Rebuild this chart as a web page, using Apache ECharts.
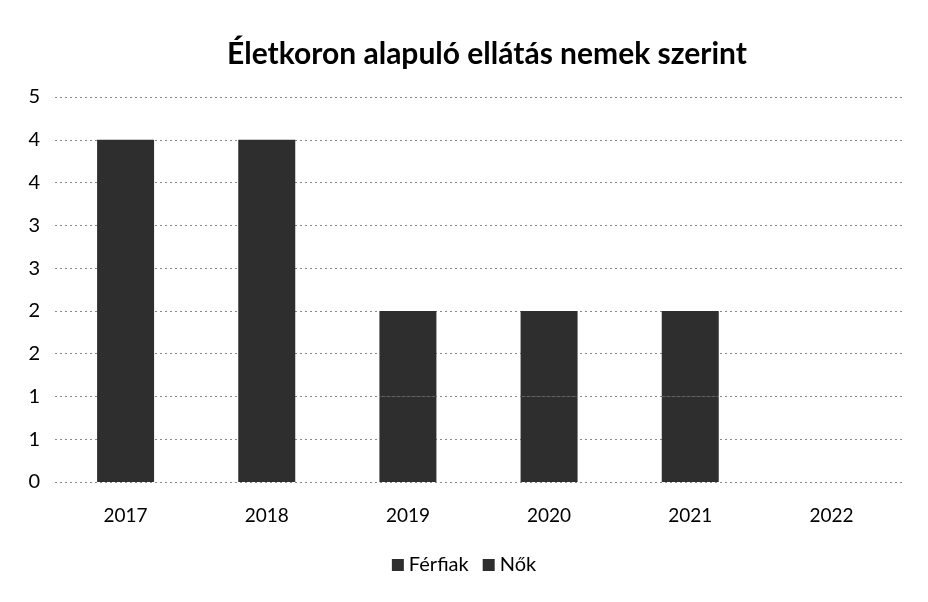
<!DOCTYPE html>
<html>
<head>
<meta charset="utf-8">
<script src="https://cdn.jsdelivr.net/npm/echarts@6/dist/echarts.min.js"></script>
<style>
html, body { margin: 0; padding: 0; background: #fff; }
#chart { width: 928px; height: 602px; }
</style>
</head>
<body>
<div id="chart"></div>
<script>
/*
 * adatok
 */
var years = ['2017', '2018', '2019', '2020', '2021', '2022'];
var ferfiak = [2, 2, 1, 1, 1, 0];
var nok = [2, 2, 1, 1, 1, 0];

var chart = echarts.init(document.getElementById('chart'));
var option = {
	animation: false,
	title: {
		text: 'Életkoron alapuló ellátás nemek szerint',
		top: 34,
		left: 482,
		textAlign: 'center',
		textStyle: {
			fontFamily: 'Lato',
			fontSize: 30,
			fontWeight: 'bold',
			color: '#000'
		}
	},
	legend: {
		data: ['Férfiak', 'Nők'],
		bottom: 22,
		left: 'center',
		itemWidth: 12,
		itemHeight: 12,
		itemGap: 14,
		icon: 'rect',
		textStyle: { fontFamily: 'Lato', fontSize: 20, color: '#000' }
	},
	grid: {
		left: 55,
		right: 26,
		top: 97,
		bottom: 120,
		containLabel: false
	},
	xAxis: {
		type: 'category',
		data: years,
		axisLine: { show: false },
		axisTick: { show: false },
		axisLabel: {
			margin: 24,
			fontFamily: 'Lato',
			fontSize: 19,
			color: '#000'
		}
	},
	yAxis: {
		type: 'value',
		min: 0,
		max: 4.5,
		interval: 0.5,
		axisLine: { show: false },
		axisTick: { show: false },
		axisLabel: {
			margin: 15,
			fontFamily: 'Lato',
			fontSize: 20,
			color: '#000',
			formatter: function (v) { return Math.round(v); }
		},
		splitLine: {
			lineStyle: { color: '#8a8a8a', type: [2, 3], width: 1 }
		}
	},
	series: [{
		name: 'Férfiak',
		type: 'bar',
		stack: 'ossz',
		barWidth: 57,
		itemStyle: { color: '#2e2e2e' },
		data: ferfiak
	}, {
		name: 'Nők',
		type: 'bar',
		stack: 'ossz',
		barWidth: 57,
		itemStyle: { color: '#2e2e2e' },
		data: nok
	}]
};
chart.setOption(option, true);
</script>
</body>
</html>
